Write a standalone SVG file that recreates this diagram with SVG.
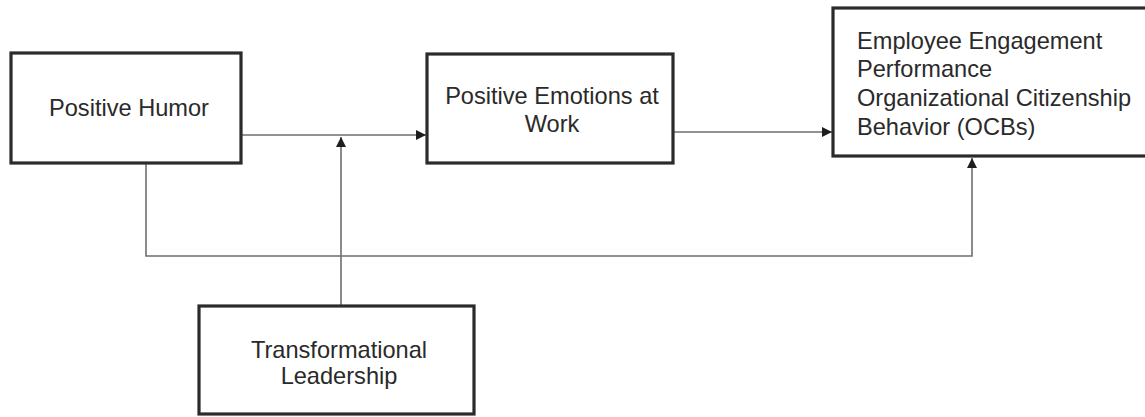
<svg xmlns="http://www.w3.org/2000/svg" width="1145" height="417" viewBox="0 0 1145 417">
<style>
.box{fill:#fff;stroke:#2b2b2b;stroke-width:3.2}
.t{font-family:"Liberation Sans",Arial,sans-serif;font-size:23.6px;fill:#2a2a2a}
.c{text-anchor:middle}
.ln{fill:none;stroke:#6e6e6e;stroke-width:1.6}
</style>
<defs>
<marker id="ah" viewBox="0 0 10 10" refX="10" refY="5" markerWidth="10" markerHeight="10" markerUnits="userSpaceOnUse" orient="auto">
<path d="M0,0 L10,5 L0,10 Z" fill="#1e1e1e"/>
</marker>
</defs>
<rect width="1145" height="417" fill="#fff"/>
<g id="connectors">
<line class="ln" x1="242" y1="135" x2="426" y2="135" marker-end="url(#ah)"/>
<line class="ln" x1="674" y1="132" x2="832" y2="132" marker-end="url(#ah)"/>
<line class="ln" x1="341" y1="306" x2="341" y2="137" marker-end="url(#ah)"/>
<polyline class="ln" points="146,164 146,256 972,256 972,158" marker-end="url(#ah)"/>
</g>
<g id="positive-humor">
<rect class="box" x="11" y="53" width="230" height="110"/>
<text class="t c" x="129" y="116">Positive Humor</text>
</g>
<g id="positive-emotions">
<rect class="box" x="427" y="54" width="246" height="109"/>
<text class="t c" x="552" y="104">Positive Emotions at</text>
<text class="t c" x="552" y="132">Work</text>
</g>
<g id="outcomes">
<rect class="box" x="833" y="8" width="330" height="148"/>
<text class="t" x="857" y="49">Employee Engagement</text>
<text class="t" x="857" y="77">Performance</text>
<text class="t" x="857" y="106">Organizational Citizenship</text>
<text class="t" x="857" y="135">Behavior (OCBs)</text>
</g>
<g id="transformational-leadership">
<rect class="box" x="199" y="306" width="275" height="108"/>
<text class="t c" x="339" y="358">Transformational</text>
<text class="t c" x="339" y="384">Leadership</text>
</g>
</svg>
